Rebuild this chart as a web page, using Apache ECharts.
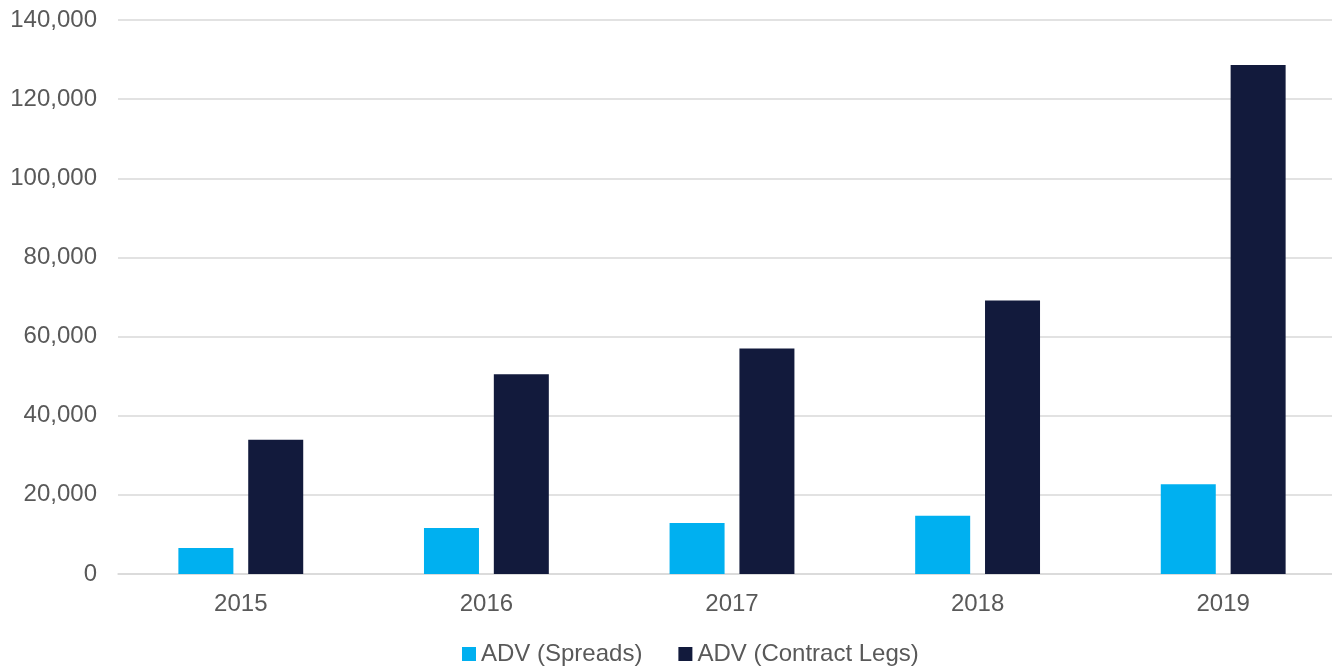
<!DOCTYPE html>
<html>
<head>
<meta charset="utf-8">
<script src="https://cdn.jsdelivr.net/npm/echarts@6/dist/echarts.min.js"></script>
<style>
  html, body { margin: 0; padding: 0; background: #fff; }
  #main { width: 1332px; height: 667px; }
</style>
</head>
<body>
<div id="main"></div>
<script>
// chart data
const years = ['2015', '2016', '2017', '2018', '2019'];
const spreads = [6600, 11600, 12900, 14700, 22700];
const contractLegs = [33900, 50500, 57000, 69100, 128600];

let myChart = echarts.init(document.getElementById('main'));
let font = 'Liberation Sans, Arial, sans-serif';

let option = {
  animation: false,
  // plot runs a bit past the right edge, like the original
  grid: { left: 118, right: -14, top: 20, bottom: 93, outerBoundsMode: 'none' },
  legend: {
    top: 637,
    left: 457,
    itemWidth: 14,
    itemHeight: 14,
    itemGap: 36,
    icon: 'rect',
    textStyle: { color: '#595959', fontSize: 24, fontFamily: font }
  },
  xAxis: {
    type: 'category',
    data: years,
    axisLine: { lineStyle: { color: '#D9D9D9', width: 1.5 } },
    axisTick: { show: false },
    axisLabel: { color: '#595959', fontSize: 24, fontFamily: font, margin: 18 }
  },
  yAxis: {
    type: 'value',
    min: 0,
    max: 140000,
    interval: 20000,
    axisLine: { show: false },
    axisTick: { show: false },
    splitLine: { lineStyle: { color: '#D9D9D9', width: 1.5 } },
    axisLabel: {
      color: '#595959', fontSize: 24, fontFamily: font, margin: 21,
      formatter: function (v) { return v.toLocaleString('en-US'); }
    }
  },
  series: [
    {
      name: 'ADV (Spreads)',
      type: 'bar',
      data: spreads,
      barWidth: 55,
      barGap: '27%',
      itemStyle: { color: '#00B0F0' }
    },
    {
      name: 'ADV (Contract Legs)',
      type: 'bar',
      data: contractLegs,
      barWidth: 55,
      itemStyle: { color: '#121A3C' }
    }
  ]
};
myChart.setOption(option);
</script>
</body>
</html>
